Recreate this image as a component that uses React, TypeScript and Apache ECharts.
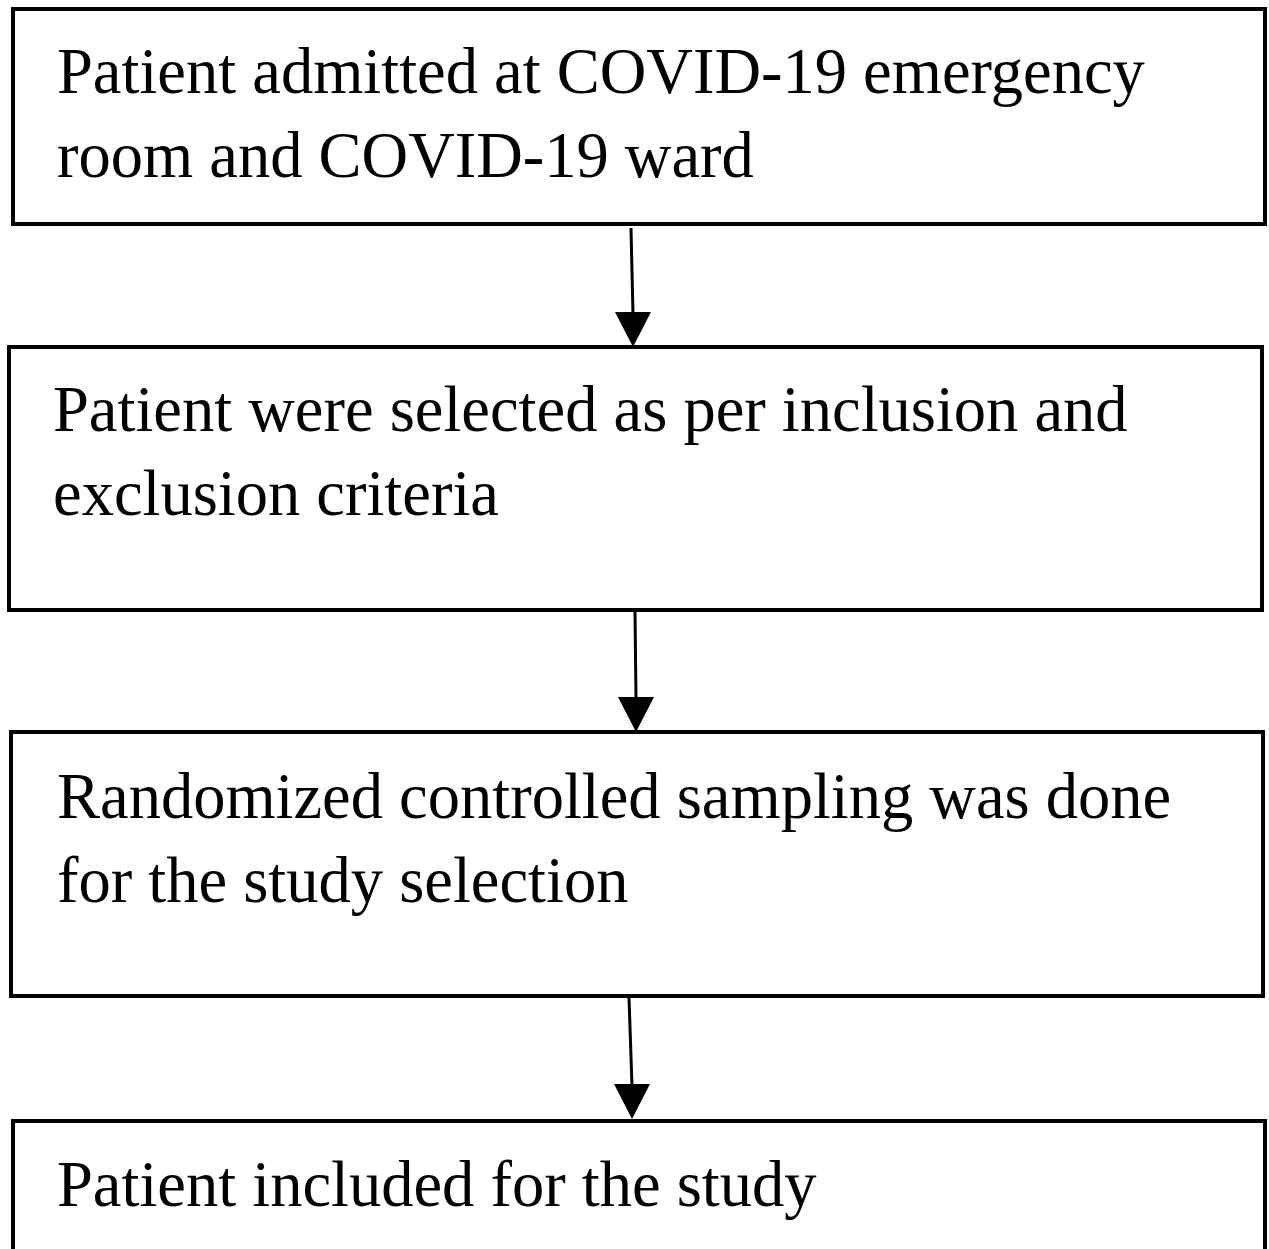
import React, { useEffect, useRef } from "react";
import * as echarts from "echarts";

// Flowchart content
const steps: string[][] = [
  ["Patient admitted at COVID-19 emergency", "room and COVID-19 ward"],
  ["Patient were selected as per inclusion and", "exclusion criteria"],
  ["Randomized controlled sampling was done", "for the study selection"],
  ["Patient included for the study"],
];

// Layout (pixels)
const boxes = [
  { x: 13, y: 9, w: 1252, h: 215, tx: 57, ty: 71 },
  { x: 9, y: 347, w: 1253, h: 263, tx: 53, ty: 409 },
  { x: 11, y: 732, w: 1252, h: 264, tx: 57, ty: 796 },
  { x: 13, y: 1121, w: 1252, h: 200, tx: 57, ty: 1184 },
];
const arrows = [
  { x1: 631, y1: 228, x2: 633, y2: 347 },
  { x1: 635, y1: 612, x2: 636, y2: 732 },
  { x1: 629, y1: 998, x2: 632, y2: 1119 },
];
const LINE_GAP = 84;
const FONT = 64.5;

export default function App() {
  const ref = useRef<HTMLDivElement>(null);
  useEffect(() => {
    if (!ref.current) return;
    const chart = echarts.init(ref.current, undefined, { renderer: "svg" });
    const elements: any[] = [];
    boxes.forEach((b, i) => {
      elements.push({
        type: "rect",
        shape: { x: b.x, y: b.y, width: b.w, height: b.h },
        style: { fill: "#ffffff", stroke: "#000000", lineWidth: 4 },
      });
      steps[i].forEach((line, j) => {
        elements.push({
          type: "text",
          x: b.tx,
          y: b.ty + j * LINE_GAP,
          style: {
            text: line,
            fill: "#000000",
            font: `${FONT}px "Liberation Serif", "Times New Roman", serif`,
            textAlign: "left",
            textVerticalAlign: "middle",
          },
        });
      });
    });
    arrows.forEach((a) => {
      const headH = 35;
      const headW = 36;
      elements.push({
        type: "line",
        shape: { x1: a.x1, y1: a.y1, x2: a.x2, y2: a.y2 - headH + 2 },
        style: { stroke: "#000000", lineWidth: 3 },
      });
      elements.push({
        type: "polygon",
        shape: {
          points: [
            [a.x2 - headW / 2, a.y2 - headH],
            [a.x2 + headW / 2, a.y2 - headH],
            [a.x2, a.y2],
          ],
        },
        style: { fill: "#000000" },
      });
    });
    chart.setOption({
      animation: false,
      backgroundColor: "#ffffff",
      graphic: { elements },
    });
    return () => chart.dispose();
  }, []);
  return (
    <div
      ref={ref}
      style={{ position: "absolute", left: 0, top: 0, width: 1269, height: 1249 }}
    />
  );
}
